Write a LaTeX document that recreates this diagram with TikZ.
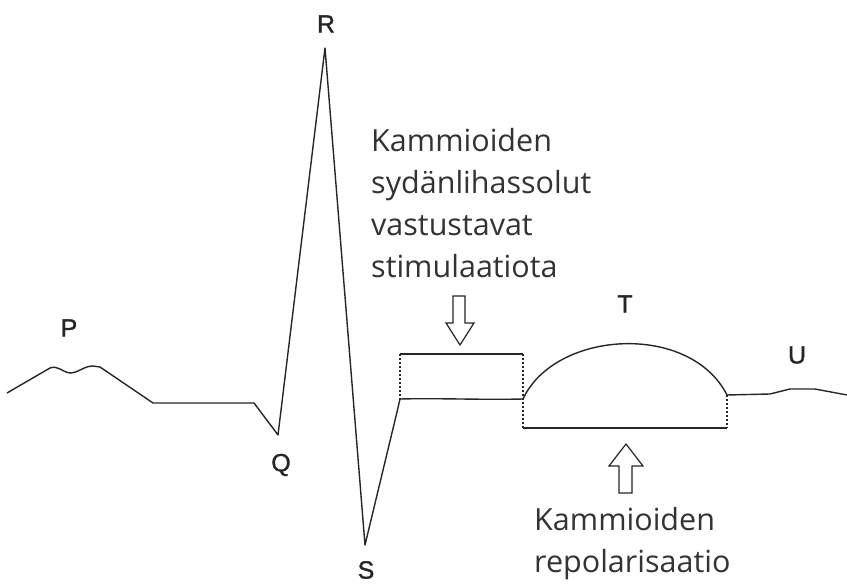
\documentclass[tikz,border=0pt]{standalone}
\usepackage{fontspec}
\setmainfont{Open Sans}
\newfontfamily\labfont[FakeBold=1.2]{Liberation Sans}
\begin{document}
\begin{tikzpicture}[x=1pt,y=-1pt,
  wave/.style={line width=1.4pt, line join=round, draw=black!85},
  bracket/.style={line width=1.5pt, draw=black!85},
  dotline/.style={line width=1.3pt, draw=black!85, dash pattern=on 2pt off 2pt},
  hollow/.style={line width=1.2pt, draw=black!85, fill=white, line join=miter},
  wavelabel/.style={font=\labfont\fontsize{25}{28}\selectfont, text=black!85, inner sep=0pt},
  note/.style={font=\fontsize{30.5}{42}\selectfont, text=black!80, align=left, inner sep=0pt, anchor=base west}
]
\useasboundingbox (0,0) rectangle (847,585);
% key points
\coordinate (start) at (7,393);
\coordinate (pA) at (50,368);
\coordinate (pB) at (70,373);
\coordinate (pC) at (93,366);
\coordinate (pEnd) at (153,403);
\coordinate (qStart) at (254,403);
\coordinate (q) at (278,435);
\coordinate (r) at (325,48);
\coordinate (s) at (365,545);
\coordinate (stA) at (397,412);
\coordinate (stB) at (400,399);
\coordinate (tStart) at (523,399);
\coordinate (tEnd) at (727,395);
\coordinate (uA) at (770,394);
\coordinate (uB) at (790,389);
\coordinate (uC) at (815,389);
\coordinate (fin) at (847,395);
% box corners
\coordinate (boxTL) at (400,354);
\coordinate (boxTR) at (523,354);
\coordinate (brL) at (523,428);
\coordinate (brR) at (727,428);
% ECG trace
\draw[wave] (start) -- (pA) .. controls (58,365) and (62,372) .. (pB)
  .. controls (78,373) and (84,366) .. (pC) -- (100,367) -- (pEnd) -- (qStart) -- (q)
  -- (r) -- (s) -- (stA) -- (stB) .. controls (440,398) and (480,400) .. (tStart)
  .. controls (555,330) and (690,322) .. (tEnd) -- (uA) -- (uB) -- (uC) -- (fin);
% brackets
\draw[bracket] (boxTL) -- (boxTR);
\draw[dotline] (boxTL) -- (stB);
\draw[dotline] (boxTR) -- (brL);
\draw[bracket] (brL) -- (brR);
\draw[dotline] (tEnd) -- (brR);
% hollow arrows
\draw[hollow] (453,296) -- (465,296) -- (465,323) -- (474,323) -- (460,345) -- (446,323) -- (453,323) -- cycle;
\draw[hollow] (626,444) -- (643,466) -- (632,466) -- (632,493) -- (619,493) -- (619,466) -- (609,466) -- cycle;
% wave labels
\node[wavelabel] (labP) at (69,328) {P};
\node[wavelabel] (labR) at (326,24) {R};
\node[wavelabel] (labQ) at (281,465) {Q};
\node[wavelabel] (labS) at (366,570) {S};
\node[wavelabel] (labT) at (625,304) {T};
\node[wavelabel] (labU) at (797,355) {U};
% notes
\node[note] (noteTop) at (371,278) {Kammioiden\\sydänlihassolut\\vastustavat\\stimulaatiota};
\node[note] (noteBot) at (534,572) {Kammioiden\\repolarisaatio};
\end{tikzpicture}
\end{document}
